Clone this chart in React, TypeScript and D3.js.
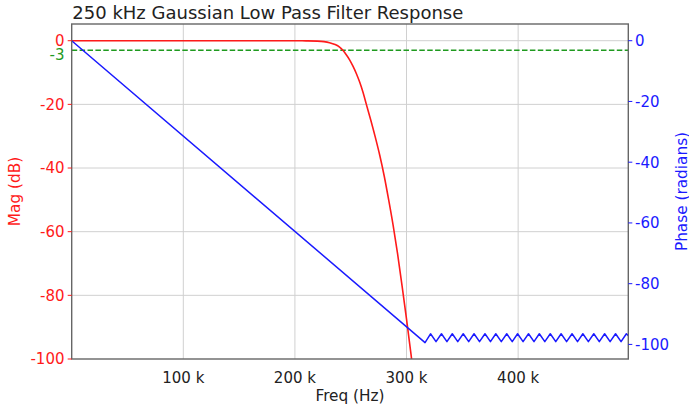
import React from "react";
import * as d3 from "d3";

const TITLE = "250 kHz Gaussian Low Pass Filter Response";
const X_LABEL = "Freq (Hz)";
const Y_LEFT_LABEL = "Mag (dB)";
const Y_RIGHT_LABEL = "Phase (radians)";

const xTicks = [100000, 200000, 300000, 400000];
const xTickLabels = ["100 k", "200 k", "300 k", "400 k"];
const yLeftTicks = [0, -20, -40, -60, -80, -100];
const yRightTicks = [0, -20, -40, -60, -80, -100];
const cutoffDb = -3;

// Magnitude response (Hz, dB)
const magFreq = [0, 100000, 150000, 200000, 210000, 220000, 226000, 231000, 236000, 240000, 243000, 246000, 249000, 252000, 255000, 258000, 261000, 264000, 268000, 272000, 276000, 280000, 284000, 288000, 292000, 296000, 300000, 304000, 308000, 312000];
const magDb = [0, 0, 0, -0.01, -0.04, -0.13, -0.3, -0.62, -1.2, -2.0, -3.0, -4.4, -6.0, -8.0, -10.3, -13.0, -16.2, -20.0, -25.0, -30.3, -36.0, -42.5, -50.0, -58.0, -67.0, -77.0, -87.5, -98.5, -110.0, -122.0];

// Phase response (Hz, radians)
const phaseFreq = [0, 316600, 321500, 326400, 331300, 336200, 341000, 345900, 350800, 355700, 360500, 365400, 370300, 375200, 380000, 384900, 389800, 394700, 399500, 404400, 409300, 414200, 419000, 423900, 428800, 433700, 438500, 443400, 448300, 453200, 458000, 462900, 467800, 472700, 477500, 482400, 487300, 492200, 497000, 498700];
const phaseRad = [0, -99.4, -96.5, -99.1, -96.5, -99.1, -96.5, -99.1, -96.5, -99.1, -96.5, -99.1, -96.5, -99.1, -96.5, -99.1, -96.5, -99.1, -96.5, -99.1, -96.5, -99.1, -96.5, -99.1, -96.5, -99.1, -96.5, -99.1, -96.5, -99.1, -96.5, -99.1, -96.5, -99.1, -96.5, -99.1, -96.5, -99.1, -96.5, -97.1];

const W = 689;
const H = 406;
const L = 71.7;
const R = 628.3;
const T = 24;
const B = 359;
const FONT = "DejaVu Sans, sans-serif";
const RED = "#ff1a1a";
const BLUE = "#1a1aff";
const GREEN = "#1f9a1f";

export default function App() {
  const x = d3.scaleLinear().domain([0, 498700]).range([L, R]);
  const yL = d3.scaleLinear().domain([-100, 5.25]).range([B, T]);
  const yR = d3.scaleLinear().domain([-104.8, 5.5]).range([B, T]);

  const magLine = d3
    .line<number>()
    .x((_, i) => x(magFreq[i]))
    .y((d) => yL(d))
    .curve(d3.curveMonotoneX)(magDb) as string;

  const phaseLine = d3
    .line<number>()
    .x((_, i) => x(phaseFreq[i]))
    .y((d) => yR(d))(phaseRad) as string;

  return (
    <svg
      width={W}
      height={H}
      style={{ position: "absolute", left: 0, top: 0, background: "#fff" }}
      fontFamily={FONT}
    >
      <defs>
        <clipPath id="plot">
          <rect x={L} y={T} width={R - L} height={B - T} />
        </clipPath>
      </defs>
      <rect width={W} height={H} fill="#fff" />

      {/* grid */}
      {yLeftTicks
        .filter((v) => v > -100)
        .map((v) => (
          <line key={"gy" + v} x1={L} x2={R} y1={yL(v)} y2={yL(v)} stroke="#d0d0d0" strokeWidth={1} />
        ))}
      {xTicks.map((v) => (
        <line key={"gx" + v} x1={x(v)} x2={x(v)} y1={T} y2={B} stroke="#d0d0d0" strokeWidth={1} />
      ))}

      <g clipPath="url(#plot)">
        <line
          x1={L}
          x2={R}
          y1={yL(cutoffDb)}
          y2={yL(cutoffDb)}
          stroke={GREEN}
          strokeWidth={1.5}
          strokeDasharray="5.5 2.4"
        />
        <path d={magLine} fill="none" stroke={RED} strokeWidth={1.6} />
        <path d={phaseLine} fill="none" stroke={BLUE} strokeWidth={1.5} strokeLinejoin="round" />
      </g>

      {/* frame */}
      <rect x={L} y={T} width={R - L} height={B - T} fill="none" stroke="#666" strokeWidth={1.4} />

      {/* left axis */}
      {yLeftTicks.map((v) => (
        <g key={"yl" + v}>
          <line x1={L - 4} x2={L} y1={yL(v)} y2={yL(v)} stroke={RED} strokeWidth={1} />
          <text x={64.5} y={yL(v)} dy="0.36em" textAnchor="end" fontSize={15} fill={RED}>
            {String(v)}
          </text>
        </g>
      ))}
      <text x={64.5} y={yL(cutoffDb) + 4.5} dy="0.36em" textAnchor="end" fontSize={15} fill={GREEN}>
        {String(cutoffDb)}
      </text>

      {/* right axis */}
      {yRightTicks.map((v) => (
        <g key={"yr" + v}>
          <line x1={R} x2={R + 4} y1={yR(v)} y2={yR(v)} stroke={BLUE} strokeWidth={1} />
          <text x={635} y={yR(v)} dy="0.36em" textAnchor="start" fontSize={15} fill={BLUE}>
            {String(v)}
          </text>
        </g>
      ))}

      {/* bottom axis */}
      {xTicks.map((v, i) => (
        <text key={"xt" + v} x={x(v)} y={383} textAnchor="middle" fontSize={15} fill="#222">
          {xTickLabels[i]}
        </text>
      ))}

      <text x={(L + R) / 2} y={400.5} textAnchor="middle" fontSize={15.3} fill="#222">
        {X_LABEL}
      </text>
      <text
        transform={`translate(20,${(T + B) / 2}) rotate(-90)`}
        textAnchor="middle"
        fontSize={15.3}
        fill={RED}
      >
        {Y_LEFT_LABEL}
      </text>
      <text
        transform={`translate(686.5,${(T + B) / 2}) rotate(-90)`}
        textAnchor="middle"
        fontSize={15.3}
        fill={BLUE}
      >
        {Y_RIGHT_LABEL}
      </text>

      <text x={72.3} y={18.5} fontSize={18} fill="#222">
        {TITLE}
      </text>
    </svg>
  );
}
